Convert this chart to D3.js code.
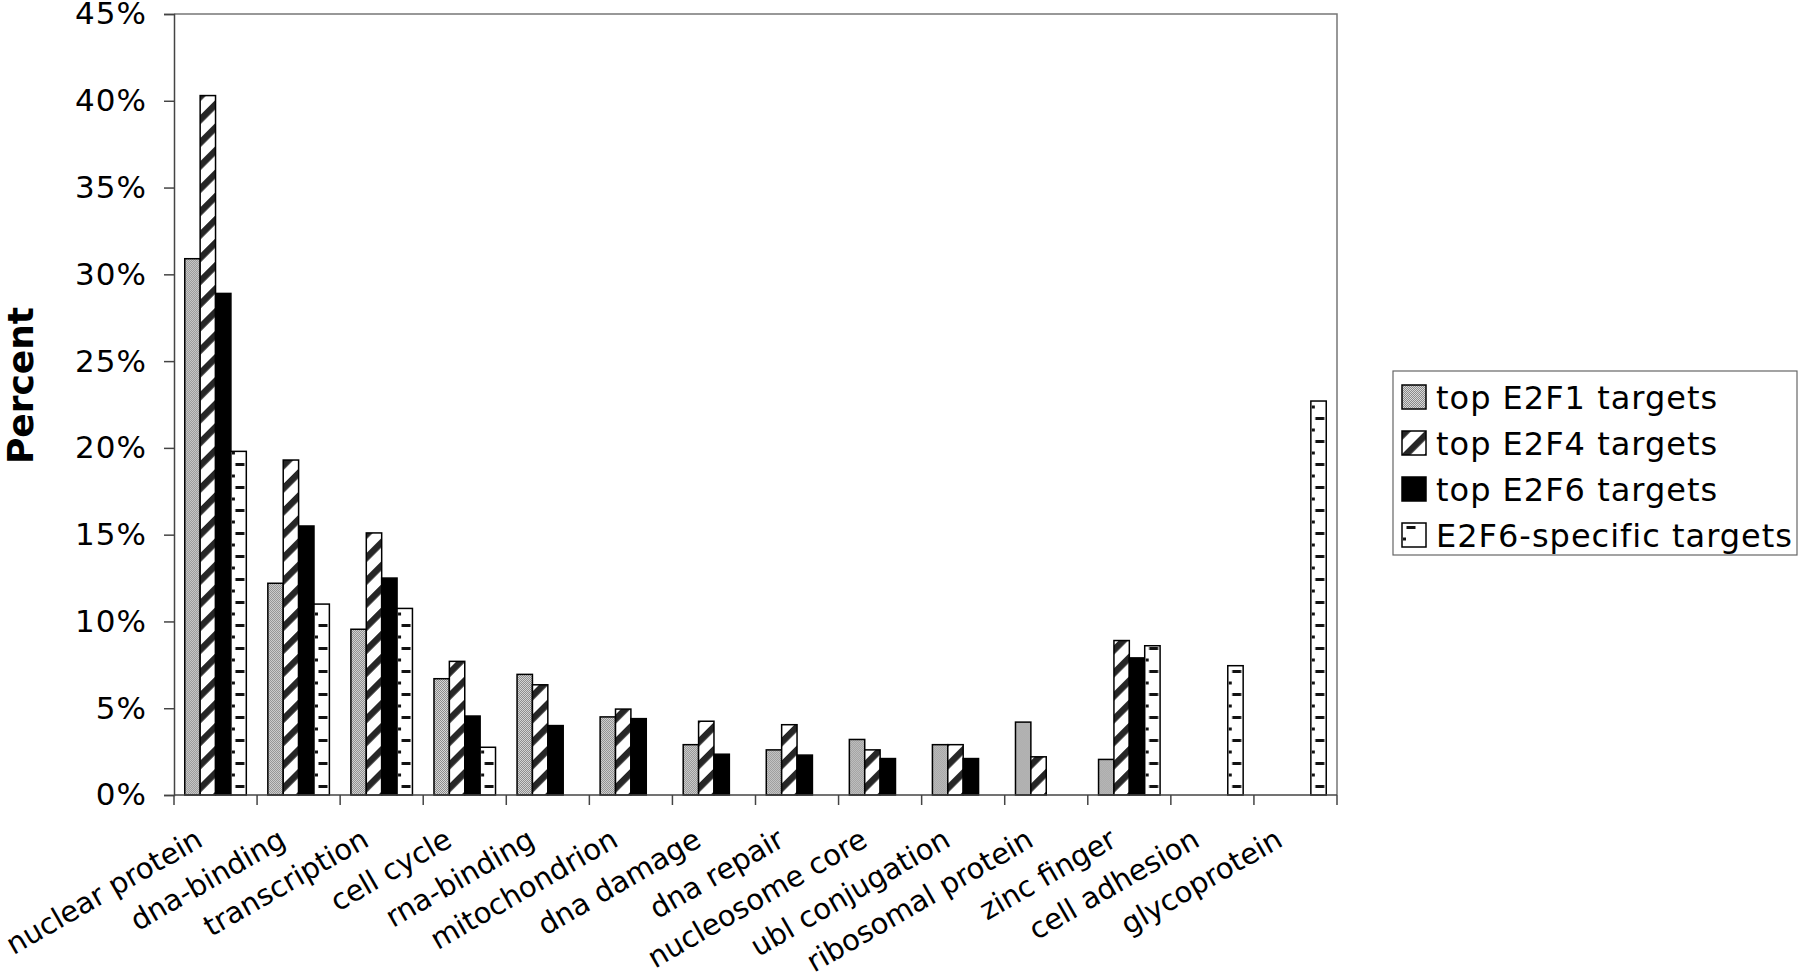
<!DOCTYPE html>
<html>
<head>
<meta charset="utf-8">
<script src="https://cdn.jsdelivr.net/npm/d3@7"></script>
<style>
  body { margin: 0; background: #fff; }
  svg { display: block; font-family: "DejaVu Sans", Verdana, sans-serif; }
</style>
</head>
<body>
<svg id="chart" width="1800" height="980"></svg>
<script>
const categories = ['nuclear protein', 'dna-binding', 'transcription', 'cell cycle', 'rna-binding',
  'mitochondrion', 'dna damage', 'dna repair', 'nucleosome core', 'ubl conjugation',
  'ribosomal protein', 'zinc finger', 'cell adhesion', 'glycoprotein'];
const seriesNames = ['top E2F1 targets', 'top E2F4 targets', 'top E2F6 targets', 'E2F6-specific targets'];
const e2f1 = [30.9, 12.2, 9.55, 6.7, 6.95, 4.5, 2.9, 2.6, 3.2, 2.9, 4.2, 2.05, 0, 0];
const e2f4 = [40.3, 19.3, 15.1, 7.7, 6.35, 4.95, 4.25, 4.05, 2.6, 2.9, 2.2, 8.9, 0, 0];
const e2f6 = [28.9, 15.5, 12.5, 4.55, 4.0, 4.4, 2.35, 2.3, 2.1, 2.1, 0, 7.9, 0, 0];
const e2f6specific = [19.8, 11.0, 10.75, 2.75, 0, 0, 0, 0, 0, 0, 0, 8.6, 7.45, 22.7];
const yTicks = [0, 5, 10, 15, 20, 25, 30, 35, 40, 45];

const seriesValues = [e2f1, e2f4, e2f6, e2f6specific];
const fills = ['url(#dither)', 'url(#hatch)', '#000', 'url(#dash)'];

const svg = d3.select('#chart');
const margin = {left: 174, right: 463, top: 14, bottom: 185};
const W = 1800, H = 980;

const x0 = d3.scaleBand().domain(categories).range([margin.left, W - margin.right]);
const x1 = d3.scaleBand().domain(seriesNames).range([0, x0.bandwidth()]).paddingOuter(0.7);
const y = d3.scaleLinear().domain([0, 45]).range([H - margin.bottom, margin.top]);

// patterns
const defs = svg.append('defs');
const dither = defs.append('pattern').attr('id', 'dither')
  .attr('patternUnits', 'userSpaceOnUse').attr('width', 2).attr('height', 2);
dither.append('rect').attr('width', 2).attr('height', 2).attr('fill', '#d8d8d8');
dither.append('rect').attr('width', 1).attr('height', 1).attr('fill', '#8a8a8a');
dither.append('rect').attr('x', 1).attr('y', 1).attr('width', 1).attr('height', 1).attr('fill', '#8a8a8a');

const hatch = defs.append('pattern').attr('id', 'hatch')
  .attr('patternUnits', 'userSpaceOnUse').attr('width', 16.3).attr('height', 16.3)
  .attr('patternTransform', 'rotate(-45)');
hatch.append('rect').attr('width', 16.3).attr('height', 16.3).attr('fill', '#fff');
hatch.append('rect').attr('width', 16.3).attr('height', 6.5).attr('fill', '#262626');

const dash = defs.append('pattern').attr('id', 'dash')
  .attr('patternUnits', 'userSpaceOnUse').attr('width', 40).attr('height', 23);
dash.append('rect').attr('width', 40).attr('height', 23).attr('fill', '#fff');
dash.append('rect').attr('x', 4.5).attr('y', 3).attr('width', 9).attr('height', 3).attr('fill', '#111');
dash.append('rect').attr('x', 1).attr('y', 14.5).attr('width', 3).attr('height', 3).attr('fill', '#111');

// plot frame (top and right)
svg.append('path')
  .attr('d', `M${margin.left},${y(45)}H${W - margin.right}V${y(0)}`)
  .attr('fill', 'none').attr('stroke', '#777').attr('stroke-width', 1.5);

// bars
const groups = svg.append('g').selectAll('g')
  .data(categories)
  .join('g')
  .attr('transform', c => `translate(${x0(c)},0)`);

groups.each(function (c, i) {
  const g = d3.select(this);
  seriesNames.forEach((s, k) => {
    const v = seriesValues[k][i];
    if (!v) return;
    g.append('g')
      .attr('transform', `translate(${x1(s)},0)`)
      .append('rect')
      .attr('x', 0)
      .attr('y', y(v))
      .attr('width', x1.bandwidth())
      .attr('height', y(0) - y(v))
      .attr('fill', fills[k])
      .attr('stroke', '#000')
      .attr('stroke-width', 1.5);
  });
});

// y axis
const yAxis = svg.append('g')
  .attr('transform', `translate(${margin.left},0)`)
  .call(d3.axisLeft(y).tickValues(yTicks).tickSize(10).tickPadding(17).tickFormat(d => d + '%'));
yAxis.select('.domain').attr('stroke', '#444').attr('stroke-width', 1.5);
yAxis.selectAll('.tick line').attr('stroke', '#444').attr('stroke-width', 1.5);
yAxis.selectAll('.tick text').attr('font-size', 31).attr('letter-spacing', 1).attr('fill', '#000')
  .attr('font-family', '"DejaVu Sans", Verdana, sans-serif');

// x axis
const xAxis = svg.append('g').attr('transform', `translate(0,${y(0)})`);
xAxis.append('line')
  .attr('x1', margin.left).attr('x2', W - margin.right)
  .attr('stroke', '#444').attr('stroke-width', 1.5);
xAxis.selectAll('line.tk')
  .data(categories.map(c => x0(c)).concat([x0.range()[1]]))
  .join('line').attr('class', 'tk')
  .attr('x1', d => d).attr('x2', d => d)
  .attr('y1', 0).attr('y2', 10)
  .attr('stroke', '#444').attr('stroke-width', 1.5);

svg.append('g').selectAll('text')
  .data(categories)
  .join('text')
  .attr('transform', c => `translate(${x0(c) + x0.bandwidth() / 2 - 11},${y(0) + 50}) rotate(-30)`)
  .attr('text-anchor', 'end')
  .attr('font-size', 29)
  .text(c => c);

// y title
svg.append('text')
  .attr('transform', `translate(33,${(y(0) + y(45)) / 2 - 19}) rotate(-90)`)
  .attr('text-anchor', 'middle')
  .attr('font-size', 36)
  .attr('font-weight', 'bold')
  .text('Percent');

// legend
const lg = svg.append('g').attr('transform', 'translate(1393,371)');
lg.append('rect').attr('width', 404).attr('height', 184)
  .attr('fill', '#fff').attr('stroke', '#666').attr('stroke-width', 1.2);
const rows = lg.selectAll('g.row').data(seriesNames).join('g').attr('class', 'row')
  .attr('transform', (d, k) => `translate(9,${26 + k * 46})`);
rows.append('g').attr('transform', 'translate(0,-12)')
  .append('rect')
  .attr('width', 24).attr('height', 24)
  .attr('fill', (d, k) => fills[k])
  .attr('stroke', '#000').attr('stroke-width', 1.5);
rows.append('text')
  .attr('x', 34).attr('y', 12)
  .attr('font-size', 32)
  .attr('letter-spacing', 1)
  .text(d => d);
</script>
</body>
</html>
